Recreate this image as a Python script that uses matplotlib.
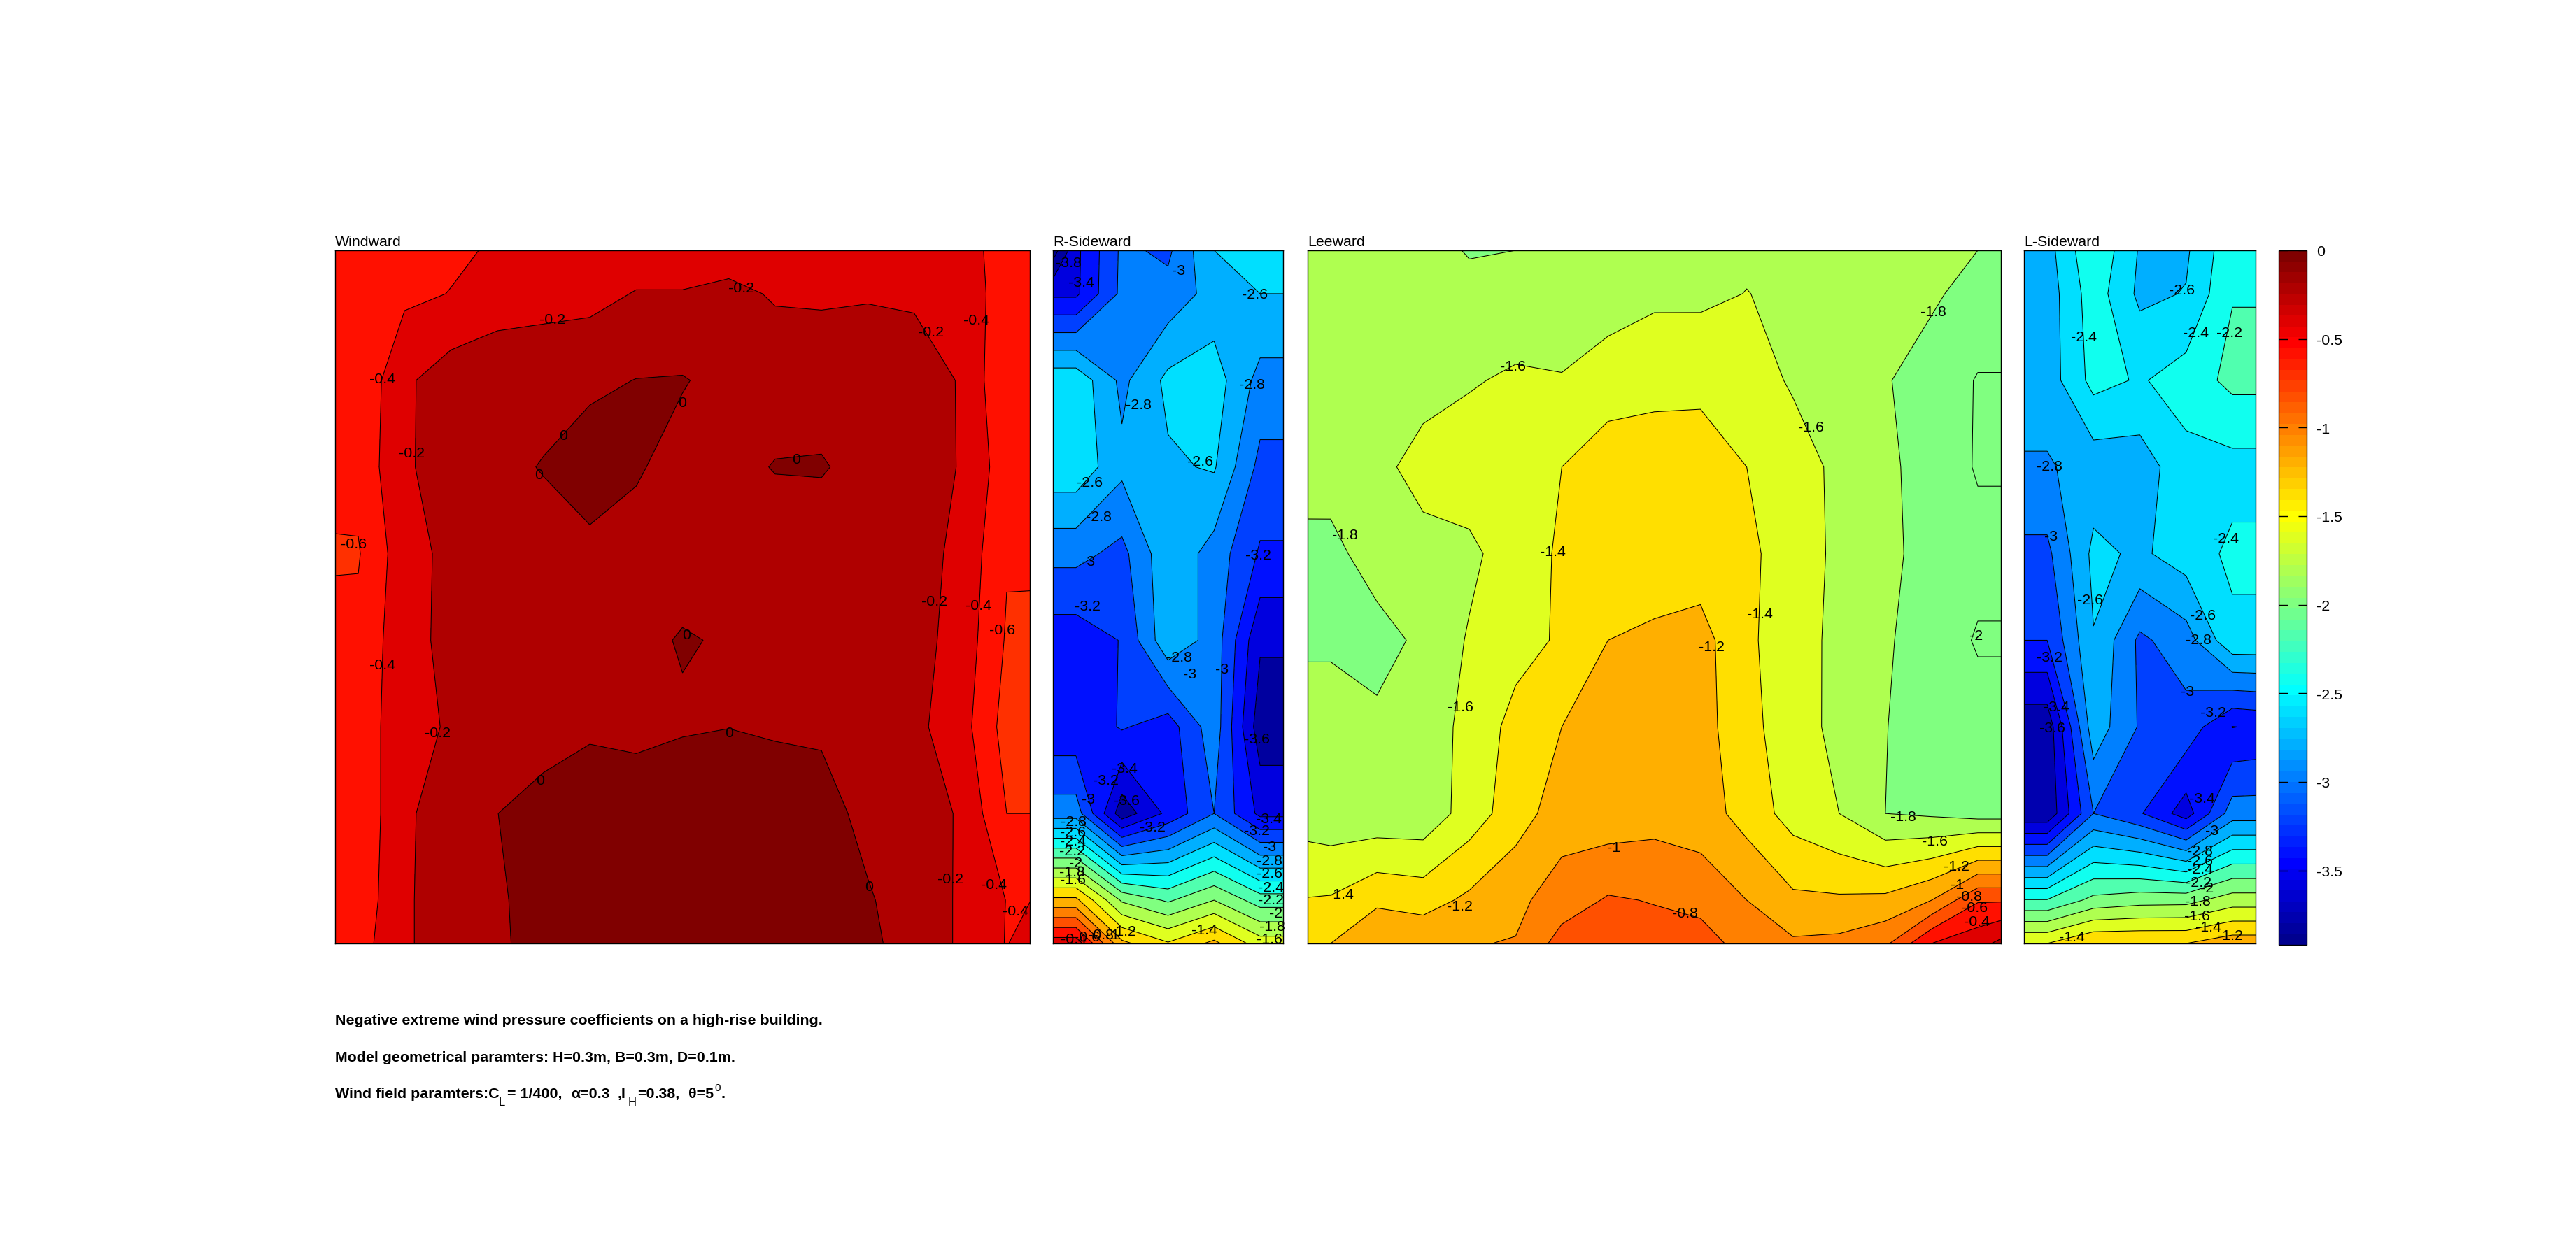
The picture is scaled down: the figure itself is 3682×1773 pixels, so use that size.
import numpy as np
import matplotlib
matplotlib.use('Agg')
import matplotlib.pyplot as plt
from matplotlib.cm import ScalarMappable
from matplotlib.colors import ListedColormap, Normalize

plt.rcParams['font.family'] = ['Liberation Sans', 'DejaVu Sans']
plt.rcParams['axes.unicode_minus'] = False

# Grid of the pressure taps, fractions of the face width and height
x_wide = np.array([0, 1, 3, 5, 7, 9, 11, 13, 15, 17, 19, 21, 23, 25, 27, 29, 30]) / 30
x_side = np.array([0, 1, 3, 5, 7, 9, 10]) / 10
y_rows = np.array([0, 1, 3, 5, 7, 9, 11, 13, 15, 16]) / 16

# Pressure coefficients, top row first
windward = np.array([
    [-.50, -.50, -.47, -.43, -.38, -.33, -.30, -.30, -.30, -.30, -.30, -.30, -.30, -.30, -.33, -.47, -.50],
    [-.52, -.50, -.44, -.395, -.26, -.27, -.26, -.19, -.19, -.147, -.22, -.228, -.216, -.223, -.30, -.48, -.50],
    [-.58, -.565, -.235, -.095, -.12, -.07, -.04, .004, .012, -.06, -.08, -.08, -.08, -.12, -.21, -.58, -.58],
    [-.55, -.54, -.23, -.10, -.05, .01, .10, .02, -.07, -.05, .008, .014, -.06, -.10, -.21, -.51, -.52],
    [-.615, -.615, -.278, -.148, -.10, -.08, -.05, -.07, -.07, -.07, -.09, -.10, -.10, -.13, -.24, -.584, -.585],
    [-.556, -.55, -.27, -.146, -.10, -.08, -.06, -.043, .012, -.015, -.05, -.05, -.07, -.13, -.27, -.62, -.62],
    [-.55, -.55, -.24, -.188, -.14, -.10, -.07, -.04, -.02, -.002, -.02, -.03, -.05, -.15, -.31, -.68, -.68],
    [-.55, -.55, -.24, -.08, -.002, .09, .28, .09, .15, .10, .10, .08, -.06, -.12, -.215, -.60, -.60],
    [-.55, -.52, -.24, -.05, -.03, .09, .10, .10, .10, .10, .10, .10, .02, -.10, -.22, -.405, -.405],
    [-.55, -.48, -.24, -.05, -.03, .07, .10, .10, .10, .10, .10, .10, .05, -.10, -.22, -.41, -.30],
])

r_sideward = np.array([
    [-3.90, -3.45, -2.96, -3.04, -2.60, -2.50, -2.50],
    [-3.44, -3.44, -2.95, -2.93, -2.72, -2.60, -2.60],
    [-2.46, -2.46, -2.85, -2.55, -2.50, -2.87, -2.87],
    [-2.46, -2.46, -2.75, -2.63, -2.58, -3.06, -3.06],
    [-2.94, -2.94, -3.06, -2.65, -2.88, -3.225, -3.225],
    [-3.31, -3.31, -3.19, -2.65, -2.88, -3.57, -3.57],
    [-3.35, -3.35, -3.18, -3.30, -2.88, -3.72, -3.72],
    [-2.90, -2.90, -3.72, -3.35, -3.00, -3.45, -3.45],
    [-1.15, -1.15, -1.83, -2.03, -1.80, -2.10, -2.10],
    [-.28, -.28, -1.15, -1.38, -1.15, -1.50, -1.50],
])

leeward = np.array([
    [-1.75, -1.75, -1.72, -1.75, -1.81, -1.80, -1.72, -1.68, -1.65, -1.65, -1.64, -1.68, -1.70, -1.72, -1.76, -1.80, -1.85],
    [-1.76, -1.75, -1.74, -1.74, -1.76, -1.75, -1.72, -1.68, -1.64, -1.65, -1.595, -1.65, -1.69, -1.72, -1.78, -1.85, -1.85],
    [-1.76, -1.75, -1.75, -1.68, -1.62, -1.566, -1.588, -1.517, -1.457, -1.42, -1.50, -1.625, -1.67, -1.79, -1.86, -2.015, -2.015],
    [-1.74, -1.72, -1.66, -1.52, -1.48, -1.43, -1.40, -1.27, -1.30, -1.36, -1.40, -1.50, -1.65, -1.77, -1.86, -2.02, -2.02],
    [-1.84, -1.853, -1.713, -1.674, -1.647, -1.49, -1.375, -1.32, -1.30, -1.30, -1.35, -1.51, -1.637, -1.76, -1.86, -1.93, -1.93],
    [-1.84, -1.84, -1.87, -1.76, -1.58, -1.47, -1.374, -1.20, -1.167, -1.13, -1.35, -1.55, -1.63, -1.78, -1.88, -2.02, -2.02],
    [-1.68, -1.68, -1.76, -1.72, -1.535, -1.336, -1.20, -1.10, -1.10, -1.10, -1.37, -1.453, -1.69, -1.795, -1.88, -1.915, -1.915],
    [-1.70, -1.73, -1.74, -1.74, -1.507, -1.29, -1.10, -1.12, -1.08, -1.10, -1.28, -1.48, -1.60, -1.80, -1.83, -1.88, -1.88],
    [-1.39, -1.38, -1.24, -1.28, -1.16, -1.05, -.90, -.78, -.81, -.88, -1.00, -1.16, -1.17, -1.15, -1.00, -.62, -.62],
    [-1.24, -1.20, -1.02, -1.05, -1.01, -.99, -.72, -.70, -.72, -.69, -.90, -.97, -.95, -.84, -.40, -.27, -.15],
])

l_sideward = np.array([
    [-2.68, -2.68, -2.22, -2.62, -2.63, -2.25, -2.25],
    [-2.71, -2.71, -2.29, -2.645, -2.59, -2.21, -2.21],
    [-2.71, -2.71, -2.335, -2.42, -2.31, -2.146, -2.146],
    [-2.82, -2.82, -2.72, -2.706, -2.465, -2.47, -2.47],
    [-3.05, -3.05, -2.55, -2.636, -2.50, -2.36, -2.36],
    [-3.20, -3.20, -2.61, -3.04, -2.89, -2.445, -2.445],
    [-3.74, -3.74, -2.68, -3.02, -3.08, -3.405, -3.38],
    [-3.76, -3.76, -3.00, -3.18, -3.50, -2.90, -2.90],
    [-2.19, -2.19, -1.94, -1.88, -1.87, -1.70, -1.70],
    [-1.40, -1.40, -1.20, -1.20, -1.20, -1.08, -1.08],
])

# Contour labels: text, then where it sits on the face
labels_windward = [
    ('-0.2', .313, .099), ('-0.2', .585, .054), ('-0.2', .858, .118), ('-0.2', .110, .292),
    ('-0.2', .863, .506), ('-0.2', .148, .696), ('-0.2', .886, .907), ('-0.4', .923, .100),
    ('-0.4', .068, .185), ('-0.4', .068, .598), ('-0.4', .926, .512), ('-0.4', .948, .915),
    ('-0.4', .979, .953), ('-0.6', .027, .423), ('-0.6', .960, .547), ('0', .500, .219),
    ('0', .328, .267), ('0', .293, .323), ('0', .664, .301), ('0', .506, .554),
    ('0', .567, .696), ('0', .295, .764), ('0', .769, .918),
]
labels_r_side = [
    ('-3.8', .068, .018), ('-3.4', .123, .046), ('-3', .547, .029), ('-2.6', .876, .063),
    ('-2.8', .865, .193), ('-2.8', .371, .223), ('-2.6', .159, .335), ('-2.6', .641, .304),
    ('-2.8', .199, .384), ('-3', .154, .449), ('-3.2', .891, .439), ('-3.2', .149, .513),
    ('-2.8', .547, .587), ('-3', .734, .604), ('-3', .593, .611), ('-3.6', .886, .705),
    ('-3.4', .310, .747), ('-3.2', .231, .764), ('-3', .154, .792), ('-3.6', .320, .794),
    ('-3.2', .433, .832), ('-3.4', .936, .820), ('-3.2', .886, .837), ('-3', .941, .860),
    ('-2.8', .088, .824), ('-2.6', .088, .839), ('-2.4', .088, .852), ('-2.2', .083, .866),
    ('-2', .098, .883), ('-1.8', .083, .897), ('-1.6', .088, .908), ('-2.8', .941, .880),
    ('-2.6', .941, .899), ('-2.4', .946, .919), ('-2.2', .946, .937), ('-2', .967, .956),
    ('-1.8', .952, .975), ('-1.6', .941, .993), ('-1.4', .659, .980), ('-1.2', .305, .982),
    ('-1', .260, .987), ('-0.8', .209, .987), ('-0.6', .148, .990), ('-0.4', .090, .993),
]
labels_leeward = [
    ('-1.6', .296, .167), ('-1.8', .902, .088), ('-1.6', .726, .255), ('-1.8', .054, .410),
    ('-1.4', .354, .434), ('-1.4', .652, .524), ('-2', .964, .556), ('-1.2', .583, .572),
    ('-1.6', .220, .658), ('-1.8', .859, .817), ('-1.6', .905, .852), ('-1', .442, .861),
    ('-1.2', .936, .888), ('-1', .937, .915), ('-1.4', .048, .929), ('-0.8', .954, .932),
    ('-0.6', .962, .948), ('-1.2', .219, .946), ('-0.8', .544, .956), ('-0.4', .965, .968),
]
labels_l_side = [
    ('-2.6', .680, .057), ('-2.4', .257, .125), ('-2.4', .743, .119), ('-2.2', .886, .119),
    ('-2.8', .111, .311), ('-3', .116, .412), ('-2.4', .871, .415), ('-2.6', .287, .504),
    ('-2.6', .773, .526), ('-2.8', .755, .562), ('-3.2', .111, .587), ('-3', .705, .636),
    ('-3.4', .141, .658), ('-3.2', .816, .667), ('-3.6', .123, .689), ('-3.4', .770, .791),
    ('-3', .811, .837), ('-2.8', .760, .866), ('-2.6', .760, .880), ('-2.4', .760, .893),
    ('-2.2', .755, .912), ('-2', .790, .920), ('-1.8', .750, .939), ('-1.6', .747, .960),
    ('-1.4', .796, .976), ('-1.4', .206, .990), ('-1.2', .891, .988),
]

W, H = 3682, 1774
c_min, c_max = -3.92, 0.0
levels = np.round(np.arange(-4.0, 0.61, 0.2), 1)
font_pt = 15.4

# 64 step jet table
idx = np.arange(1, 65)
jet_r = np.clip(np.minimum((idx - 24) / 16, 1 - (idx - 56) / 16), 0, 1)
jet_g = np.clip(np.minimum((idx - 8) / 16, (56 - idx) / 16), 0, 1)
jet_b = np.clip(np.minimum((idx + 8) / 16, (40 - idx) / 16), 0, 1)
jet64 = np.column_stack([jet_r, jet_g, jet_b])
norm = Normalize(c_min, c_max)


def level_color(v):
    i = int(np.floor((v - c_min) / (c_max - c_min) * 64))
    return tuple(jet64[min(max(i, 0), 63)])


fig = plt.figure(figsize=(W / 100, H / 100), dpi=100)


def px_axes(x0, x1, y0, y1):
    return fig.add_axes([x0 / W, 1 - y1 / H, (x1 - x0) / W, (y1 - y0) / H])


def draw_face(box, title, x, z, labels):
    ax = px_axes(*box)
    # each band takes the colour of its lower level, the lowest one that of the data minimum
    band_colors = [level_color(max(v, z.min())) for v in levels[:-1]]
    ax.contourf(x, y_rows, z, levels=levels, colors=band_colors)
    ax.contour(x, y_rows, z, levels=levels[levels <= 0], colors='k', linewidths=0.75, linestyles='solid')
    ax.set_xlim(0, 1)
    ax.set_ylim(1, 0)
    ax.set_xticks([])
    ax.set_yticks([])
    for s in ax.spines.values():
        s.set_linewidth(1.0)
    ax.set_title(title, loc='left', fontsize=font_pt, pad=5)
    for txt, fx, fy in labels:
        ax.text(fx, fy, txt, fontsize=font_pt, ha='center', va='center', color='k')
    return ax


draw_face((479, 1472, 359, 1350), 'Windward', x_wide, windward, labels_windward)
draw_face((1505, 1834, 359, 1350), 'R-Sideward', x_side, r_sideward, labels_r_side)
draw_face((1869, 2860, 359, 1350), 'Leeward', x_wide, leeward, labels_leeward)
draw_face((2893, 3224, 359, 1350), 'L-Sideward', x_side, l_sideward, labels_l_side)

cax = px_axes(3257, 3297, 359, 1352)
cb = fig.colorbar(ScalarMappable(norm=norm, cmap=ListedColormap(jet64)), cax=cax)
cb.set_ticks([0, -.5, -1, -1.5, -2, -2.5, -3, -3.5])
cb.set_ticklabels(['0', '-0.5', '-1', '-1.5', '-2', '-2.5', '-3', '-3.5'])
cax.tick_params(direction='in', length=9, width=1, left=True, right=True, labelsize=font_pt, pad=10)
cb.outline.set_linewidth(1.0)

fig.text(479 / W, 1 - 1460 / H, 'Negative extreme wind pressure coefficients on a high-rise building.',
         fontsize=font_pt, fontweight='bold', va='center')
fig.text(479 / W, 1 - 1513 / H, 'Model geometrical paramters: H=0.3m, B=0.3m, D=0.1m.',
         fontsize=font_pt, fontweight='bold', va='center')

# third line goes piece by piece, its sub and superscripts are not bold
for txt, x_px, y_px, weight, size in [
    ('Wind field paramters:C', 479, 1565, 'bold', font_pt), ('L', 713, 1577, 'normal', 12),
    ('= 1/400,', 725, 1565, 'bold', font_pt), ('α=0.3', 816, 1565, 'bold', font_pt), (',I', 883, 1565, 'bold', font_pt),
    ('H', 898, 1577, 'normal', 12), ('=0.38,', 911, 1565, 'bold', font_pt), ('θ=5', 984, 1565, 'bold', font_pt),
    ('0', 1021, 1556, 'normal', 11), ('.', 1031, 1565, 'bold', font_pt),
]:
    fig.text(x_px / W, 1 - y_px / H, txt, fontsize=size, fontweight=weight, va='center')

fig.savefig('out.png', dpi=100, facecolor='white')
